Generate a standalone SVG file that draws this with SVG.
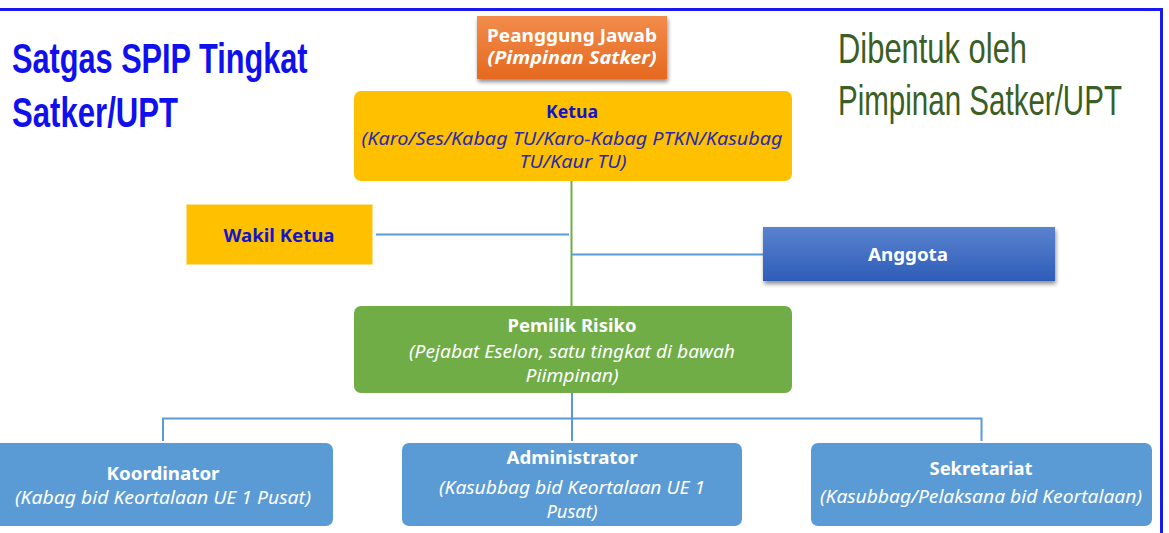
<svg xmlns="http://www.w3.org/2000/svg" width="1169" height="533" viewBox="0 0 1169 533">
<defs>
<linearGradient id="gOr" x1="0" y1="0" x2="0" y2="1"><stop offset="0" stop-color="#f28c4c"/><stop offset="1" stop-color="#e5691f"/></linearGradient>
<linearGradient id="gBl" x1="0" y1="0" x2="0" y2="1"><stop offset="0" stop-color="#5a82cf"/><stop offset="1" stop-color="#2e5db8"/></linearGradient>
<filter id="sh" x="-10%" y="-20%" width="125%" height="150%"><feGaussianBlur in="SourceAlpha" stdDeviation="2"/><feOffset dx="1" dy="3"/><feComponentTransfer><feFuncA type="linear" slope="0.45"/></feComponentTransfer><feMerge><feMergeNode/><feMergeNode in="SourceGraphic"/></feMerge></filter>
<style>
.t{font-family:"Noto Sans","Open Sans",sans-serif;text-anchor:middle;font-size:18.5px}
.b{font-weight:bold}
.i{font-style:italic}
.w{fill:#ffffff}
.bl{fill:#1414c8}
.ln{fill:none;stroke:#5b9bd5;stroke-width:2}
.big{font-family:"Liberation Sans",sans-serif}
.ttl{font-weight:bold;font-size:42px;fill:#1010ee}
.nt{font-size:43px;fill:#3b5e24}
</style>
</defs>
<rect width="1169" height="533" fill="#ffffff"/>
<path d="M0 9.5 H1161.5 V533" fill="none" stroke="#1a1aee" stroke-width="3"/>
<g id="title">
<text class="big ttl" transform="translate(12,73) scale(0.731,1)">Satgas SPIP Tingkat</text>
<text class="big ttl" transform="translate(12,127) scale(0.741,1)">Satker/UPT</text>
</g>
<g id="note">
<text class="big nt" transform="translate(838,63) scale(0.719,1)">Dibentuk oleh</text>
<text class="big nt" transform="translate(838,115) scale(0.687,1)">Pimpinan Satker/UPT</text>
</g>
<g id="connectors">
<line x1="571.5" y1="181" x2="571.5" y2="306" stroke="#70ad47" stroke-width="2"/>
<line x1="376" y1="234.5" x2="569" y2="234.5" class="ln"/>
<line x1="572" y1="254.5" x2="763" y2="254.5" class="ln"/>
<path d="M572 393 V441 M163 441 V418.5 H981.5 V441" class="ln"/>
</g>
<g id="penanggung">
<rect x="477" y="16" width="190" height="63" fill="url(#gOr)" filter="url(#sh)"/>
<text x="572" y="42" class="t b w" font-size="17" style="font-size:17px" textLength="170" lengthAdjust="spacingAndGlyphs">Peanggung Jawab</text>
<text x="572" y="64" class="t b i w" style="font-size:17px" textLength="169" lengthAdjust="spacingAndGlyphs">(Pimpinan Satker)</text>
</g>
<g id="ketua">
<rect x="354" y="91" width="438" height="90" rx="7" fill="#ffc000"/>
<text x="572" y="118" class="t b bl" textLength="52" lengthAdjust="spacingAndGlyphs">Ketua</text>
<text x="572" y="145" class="t i" fill="#2a2ab0" textLength="421" lengthAdjust="spacingAndGlyphs">(Karo/Ses/Kabag TU/Karo-Kabag PTKN/Kasubag</text>
<text x="573" y="168" class="t i" fill="#2a2ab0" textLength="107" lengthAdjust="spacingAndGlyphs">TU/Kaur TU)</text>
</g>
<g id="wakil">
<rect x="186.5" y="204.5" width="186" height="60" fill="#ffc000" stroke="#ffe08a" stroke-width="1"/>
<text x="279" y="242" class="t b bl" textLength="111" lengthAdjust="spacingAndGlyphs">Wakil Ketua</text>
</g>
<g id="anggota">
<rect x="763" y="227" width="292" height="54" fill="url(#gBl)" filter="url(#sh)"/>
<text x="908" y="261" class="t b w" textLength="80" lengthAdjust="spacingAndGlyphs">Anggota</text>
</g>
<g id="pemilik">
<rect x="354" y="306" width="438" height="87" rx="7" fill="#70ad47"/>
<text x="572" y="332" class="t b w" textLength="129" lengthAdjust="spacingAndGlyphs">Pemilik Risiko</text>
<text x="572" y="358" class="t i w" textLength="326" lengthAdjust="spacingAndGlyphs">(Pejabat Eselon, satu tingkat di bawah</text>
<text x="572" y="382" class="t i w" textLength="93" lengthAdjust="spacingAndGlyphs">Piimpinan)</text>
</g>
<g id="koordinator">
<rect x="-6" y="443" width="339" height="83" rx="7" fill="#5b9bd5"/>
<text x="163" y="480" class="t b w" textLength="113" lengthAdjust="spacingAndGlyphs">Koordinator</text>
<text x="163" y="504" class="t i w" textLength="296" lengthAdjust="spacingAndGlyphs">(Kabag bid Keortalaan UE 1 Pusat)</text>
</g>
<g id="administrator">
<rect x="402" y="443" width="340" height="83" rx="7" fill="#5b9bd5"/>
<text x="572" y="464" class="t b w" textLength="131" lengthAdjust="spacingAndGlyphs">Administrator</text>
<text x="572" y="494" class="t i w" textLength="266" lengthAdjust="spacingAndGlyphs">(Kasubbag bid Keortalaan UE 1</text>
<text x="572" y="518" class="t i w" textLength="51" lengthAdjust="spacingAndGlyphs">Pusat)</text>
</g>
<g id="sekretariat">
<rect x="811" y="443" width="341" height="83" rx="7" fill="#5b9bd5"/>
<text x="981" y="475" class="t b w" textLength="103" lengthAdjust="spacingAndGlyphs">Sekretariat</text>
<text x="981" y="503" class="t i w" textLength="322" lengthAdjust="spacingAndGlyphs">(Kasubbag/Pelaksana bid Keortalaan)</text>
</g>
</svg>
